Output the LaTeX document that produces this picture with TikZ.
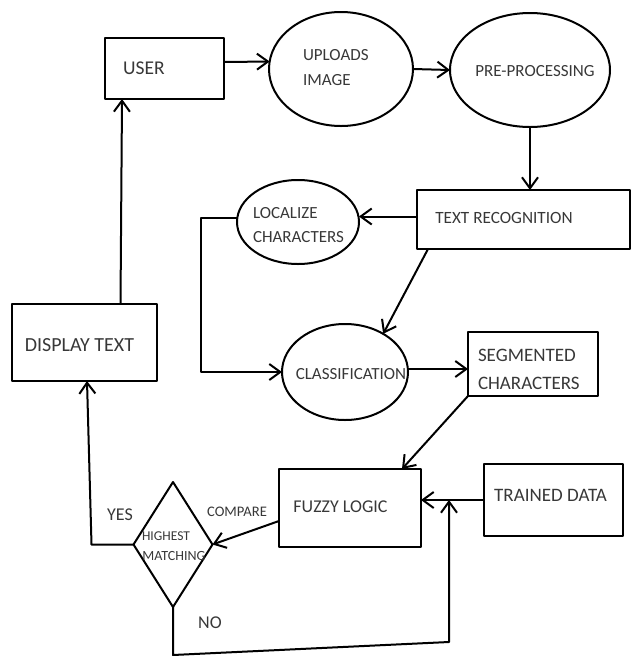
\documentclass[tikz,border=0pt]{standalone}
\usepackage{fontspec}
\setmainfont{Carlito}
\usetikzlibrary{shapes.geometric,arrows.meta}
\begin{document}
\begin{tikzpicture}[x=1pt,y=-1pt,
  line width=2pt, line join=round,
  every node/.style={inner sep=0pt,outer sep=0pt},
  boxshape/.style={draw,rectangle},
  oval/.style={draw,ellipse},
  lbl/.style 2 args={text=black!78,font=\fontsize{#1}{#2}\selectfont},
  arr/.style={-{Straight Barb[length=11pt,width=16pt]}}]
\useasboundingbox (0,0) rectangle (632,657);

% shapes
\node[boxshape,minimum width=119pt,minimum height=61pt] (user) at (164.5,68.5) {};
\node[oval,minimum width=144pt,minimum height=114pt] (uploads) at (341,69) {};
\node[oval,minimum width=160pt,minimum height=114pt] (pre) at (530,70) {};
\node[boxshape,minimum width=213pt,minimum height=59pt] (textrec) at (523.5,219.5) {};
\node[oval,minimum width=122pt,minimum height=84pt] (localize) at (298,222) {};
\node[oval,minimum width=126pt,minimum height=96pt] (classif) at (345,372) {};
\node[boxshape,minimum width=130pt,minimum height=64pt] (segment) at (533,364) {};
\node[boxshape,minimum width=145pt,minimum height=77pt] (display) at (84.5,342.5) {};
\node[boxshape,minimum width=142pt,minimum height=78pt] (fuzzy) at (350,508) {};
\node[boxshape,minimum width=139pt,minimum height=72pt] (trained) at (553.5,500) {};
\node[draw,diamond,minimum width=79pt,minimum height=125pt] (decide) at (173,544.5) {};

% labels
\node[lbl={19.5}{24}] (userT) at (144,68) {USER};
\node[lbl={17}{25},align=left,anchor=west] (uploadsT) at (303,67.5) {UPLOADS\\IMAGE};
\node[lbl={17}{20}] (preT) at (535,71) {PRE-PROCESSING};
\node[lbl={17.2}{20}] (textrecT) at (504,218) {TEXT RECOGNITION};
\node[lbl={17}{24},align=left,anchor=west] (localizeT) at (253,225) {LOCALIZE\\CHARACTERS};
\node[lbl={17}{20}] (classifT) at (351,374) {CLASSIFICATION};
\node[lbl={19}{28},align=left,anchor=west] (segmentT) at (478,369) {SEGMENTED\\CHARACTERS};
\node[lbl={20}{24}] (displayT) at (79.5,345) {DISPLAY TEXT};
\node[lbl={18}{22}] (fuzzyT) at (340.5,507) {FUZZY LOGIC};
\node[lbl={19}{22}] (trainedT) at (550.5,495) {TRAINED DATA};
\node[lbl={13.5}{16}] (highT) at (166,536) {HIGHEST};
\node[lbl={14}{16}] (matchT) at (174,556) {MATCHING};
\node[lbl={14.6}{18}] (compareT) at (237,512) {COMPARE};
\node[lbl={18}{22}] (yesT) at (120,515) {YES};
\node[lbl={18}{22}] (noT) at (210,623) {NO};

% helper points of the NO loop
\coordinate (noA) at (173,655);
\coordinate (noB) at (449,642);
\coordinate (merge) at (449,500);

% connectors
\draw[arr] ([yshift=6.5pt]user.east) -- (uploads.174);
\draw[arr] (uploads.east) -- (pre.west);
\draw[arr] (pre.south) -- (pre.south |- textrec.north);
\draw[arr] ([yshift=3pt]textrec.west) -- ([yshift=3pt]textrec.west -| localize.east);
\draw[arr] ([yshift=4pt]localize.west) -- ++(-36,0) |- (classif.west);
\draw[arr] ([xshift=11pt]textrec.south west) -- (classif.45);
\draw[arr] ([yshift=3pt]classif.east) -- ([yshift=3pt]classif.east -| segment.west);
\draw[arr] (segment.south west) -- ([xshift=-19pt]fuzzy.north east);
\draw[arr] (trained.west) -- (trained.west -| fuzzy.east);
\draw[arr] ([yshift=-13pt]fuzzy.west) -- (decide.east);
\draw[arr] (decide.west) -- ++(-42,0) -- ([xshift=2.5pt]display.south);
\draw[arr] (decide.south) -- (noA) -- (noB) -- (merge);
\draw[arr] ([xshift=36pt]display.north) -- ([xshift=-42.5pt]user.south);
\end{tikzpicture}
\end{document}
